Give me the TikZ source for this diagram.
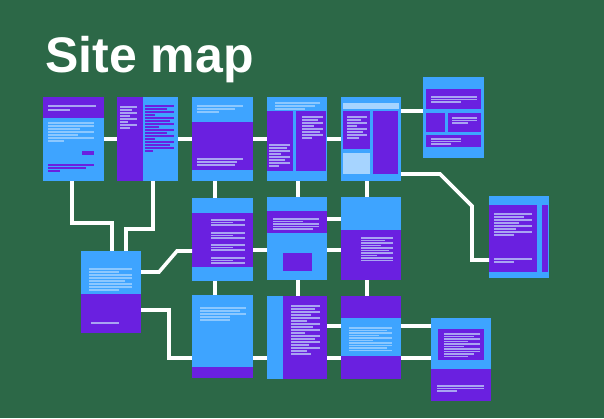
\documentclass[tikz,border=0pt]{standalone}
\usepackage{fontspec}
\setmainfont{Liberation Sans}
\definecolor{bg}{HTML}{2C6847}
\definecolor{pblue}{HTML}{3EA4FF}
\definecolor{ppur}{HTML}{6A20E0}
\definecolor{lav}{HTML}{A9A4F2}
\definecolor{ltb}{HTML}{8CC8FF}
\definecolor{lsq}{HTML}{A6D4FF}
\newcommand\tl[5]{\foreach \w [count=\i from 0] in {#5} \fill[#1] (#2,{#3+#4*\i}) rectangle ++(\w,1.6);}
\tikzset{
  page/.style={rectangle, fill=pblue, inner sep=0pt, outer sep=0pt, minimum width=61pt, minimum height=84pt},
  link/.style={draw=white, line width=3.6pt}
}
\begin{document}
\begin{tikzpicture}[x=1pt,y=-1pt]
\fill[bg] (0,0) rectangle (604,418);
\useasboundingbox (0,0) rectangle (604,418);
\node[anchor=base west, inner sep=0pt, text=white, font=\bfseries\fontsize{50}{50}\selectfont] (title) at (45,72) {Site map};

% ---------- pages ----------
\node[page] (B1) at (73.5,139) {};
\node[page] (B2) at (147.5,139) {};
\node[page] (B3) at (222.5,139) {};
\node[page, minimum width=60pt] (B4) at (297,139) {};
\node[page, minimum width=60pt] (B5) at (371,139) {};
\node[page, minimum height=81pt] (B6) at (453.5,117.5) {};
\node[page, minimum width=60pt, minimum height=82pt] (B7) at (519,237) {};
\node[page, minimum height=83pt] (C1) at (222.5,239.5) {};
\node[page, minimum width=60pt, minimum height=83pt] (C2) at (297,238.5) {};
\node[page, minimum width=60pt, minimum height=83pt] (C3) at (371,238.5) {};
\node[page, minimum width=60pt, minimum height=82pt] (L) at (111,292) {};
\node[page, minimum height=83pt] (D1) at (222.5,336.5) {};
\node[page, minimum width=60pt, minimum height=83pt] (D2) at (297,337.5) {};
\node[page, minimum width=60pt, minimum height=83pt] (D3) at (371,337.5) {};
\node[page, minimum width=60pt, minimum height=83pt] (D4) at (461,359.5) {};

% ---------- page details ----------
% B1
\fill[ppur] (43,97) rectangle (104,118);
\tl{lav}{48}{105}{4}{48,22}
\tl{ltb}{48}{122}{3}{46,46,32,46,30,46,16}
\fill[ppur] (82,151) rectangle (94,155);
\tl{ppur}{48}{164}{3}{46,38,12}
% B2
\fill[ppur] (117,97) rectangle (143,181);
\tl{lav}{120}{106}{3}{17,12,17,10,17,8,17,10}
\tl{ppur}{145}{105}{3}{29,22,29,10,29,25,29,14,29,22,29,10,29,25,29,8}
% B3
\fill[ppur] (192,122) rectangle (253,170);
\tl{ltb}{197}{105}{3}{46,38,22}
\tl{lav}{197}{158}{3}{46,40,38}
% B4
\fill[ppur] (267,111) rectangle (293,171);
\fill[ppur] (296,111) rectangle (326,171);
\tl{ltb}{275}{102}{3}{45,40,30}
\tl{lav}{302}{116}{3}{21,16,21,12,21,18,21,10}
\tl{lav}{269}{144}{3}{21,18,21,12,21,16,21,10}
% B5
\fill[lsq] (343,103) rectangle (399,109);
\fill[ppur] (343,111) rectangle (370,149);
\fill[ppur] (373,111) rectangle (398,174);
\fill[lsq] (343,153) rectangle (370,174);
\tl{lav}{347}{116}{3}{20,14,20,10,20,16,20,12}
% B6
\fill[ppur] (426,89) rectangle (481,109);
\fill[ppur] (426,113) rectangle (445,132);
\fill[ppur] (448,113) rectangle (481,132);
\fill[ppur] (426,135) rectangle (481,147);
\tl{lav}{431}{96}{2.5}{46,46,30}
\tl{lav}{452}{117}{2.5}{25,25,16}
\tl{lav}{431}{138}{2.5}{30,30,20}
% B7
\fill[ppur] (489,205) rectangle (537,272);
\fill[ppur] (542,205) rectangle (548,272);
\tl{lav}{494}{213}{3}{38,30,38,25,38,22,38,20}
\tl{lav}{494}{258}{3}{38,20}
% C1
\fill[ppur] (192,213) rectangle (253,267);
\foreach \g in {219,232,244,257} {\tl{lav}{211}{\g}{2.5}{34,22,34}}
% C2
\fill[ppur] (267,211) rectangle (327,233);
\tl{lav}{273}{218}{2.5}{46,30,46,46,40}
\fill[ppur] (283,253) rectangle (312,271);
% C3
\fill[ppur] (341,230) rectangle (401,280);
\tl{lav}{361}{237}{2.5}{32,24,32,20,32,28,32,16,32,32}
% L
\fill[ppur] (81,294) rectangle (141,333);
\tl{ltb}{89}{268}{3}{43,30,43,43,36,43,43,30}
\fill[lav] (91,322) rectangle (119,323.5);
% D1
\fill[ppur] (192,367) rectangle (253,378);
\tl{ltb}{200}{307}{3}{46,40,46,30,30}
% D2
\fill[ppur] (283,296) rectangle (327,379);
\tl{lav}{291}{305}{3}{29,24,29,20,29,16,29,22,29,14,29,24,29,18,29,16,20}
% D3
\fill[ppur] (341,296) rectangle (401,318);
\fill[ppur] (341,356) rectangle (401,379);
\tl{ltb}{349}{327}{2.5}{43,38,43,30,43,24,43,43,38,43}
% D4
\fill[ppur] (431,369) rectangle (491,401);
\fill[ppur] (438,329) rectangle (484,360);
\tl{lav}{444}{333}{2.5}{36,30,36,24,36,20,36,36,30,24}
\tl{lav}{437}{385}{2.5}{47,47,20}

% ---------- connectors ----------
\draw[link] (B1) -- (B2);
\draw[link] (B2) -- (B3);
\draw[link] (B3) -- (B4);
\draw[link] (B4) -- (B5);
\draw[link] (B5.east |- 0,111) -- (B6.west |- 0,111);
\draw[link] (B5.east |- 0,174) -- (440,174) -- (472,206) -- (472,260) -- (B7.west |- 0,260);
\draw[link] (B1.south -| 72,0) |- (112,223) -- (L.north -| 112,0);
\draw[link] (B2.south -| 153,0) |- (126,229) -- (L.north -| 126,0);
\draw[link] (L.east |- 0,272) -- (159,272) -- (177,251) -- (C1.west |- 0,251);
\draw[link] (L.east |- 0,310) -| (169,358) -- (D1.west |- 0,358);
\draw[link] (B3.south -| 215,0) -- (C1.north -| 215,0);
\draw[link] (B4.south -| 298,0) -- (C2.north -| 298,0);
\draw[link] (B5.south -| 367,0) -- (C3.north -| 367,0);
\draw[link] (C1.east |- 0,250) -- (C2.west |- 0,250);
\draw[link] (C2.east |- 0,219) -- (C3.west |- 0,219);
\draw[link] (C2.east |- 0,250) -- (C3.west |- 0,250);
\draw[link] (C1.south -| 215,0) -- (D1.north -| 215,0);
\draw[link] (C2.south -| 298,0) -- (D2.north -| 298,0);
\draw[link] (C3.south -| 367,0) -- (D3.north -| 367,0);
\draw[link] (D1.east |- 0,358) -- (D2.west |- 0,358);
\draw[link] (D2.east |- 0,326) -- (D3.west |- 0,326);
\draw[link] (D2.east |- 0,358) -- (D3.west |- 0,358);
\draw[link] (D3.east |- 0,326) -- (D4.west |- 0,326);
\draw[link] (D3.east |- 0,358) -- (D4.west |- 0,358);
\end{tikzpicture}
\end{document}
